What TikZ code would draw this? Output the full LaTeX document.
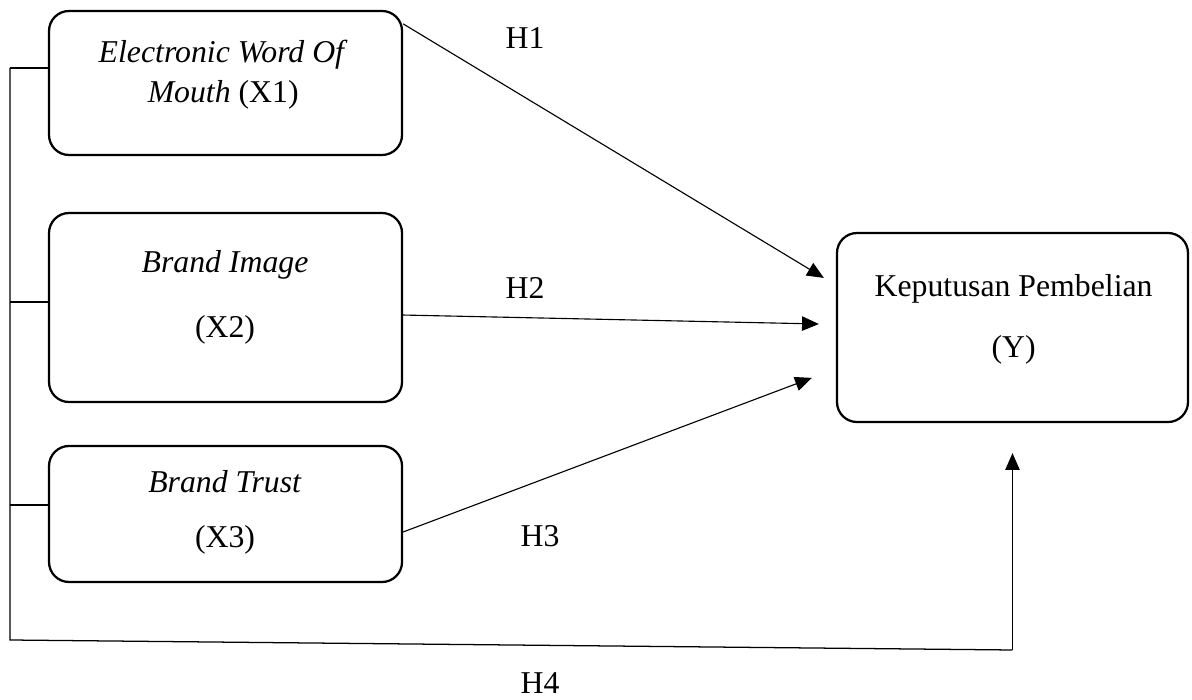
\documentclass[tikz,border=0pt]{standalone}
\usepackage{fontspec}
\setmainfont{Liberation Serif}
\usetikzlibrary{arrows.meta,positioning,calc}

\begin{document}
\begin{tikzpicture}[
  varbox/.style={rectangle,draw=black,line width=0.8pt,rounded corners=0.25cm,inner sep=0pt},
  lbl/.style={anchor=base,inner sep=0pt,font=\fontsize{11.3}{13}\selectfont},
  link/.style={draw=black,line width=0.4pt,-{Triangle[length=2.1mm,width=1.8mm]}},
  frame/.style={draw=black,line width=0.45pt}
]
\useasboundingbox (0,0) rectangle (14.9,8.75);

% variable boxes
\node[varbox,minimum width=4.4125cm,minimum height=1.8cm]    (x1) at (2.819,7.7125) {};
\node[varbox,minimum width=4.4125cm,minimum height=2.3625cm] (x2) at (2.819,4.906) {};
\node[varbox,minimum width=4.4125cm,minimum height=1.7cm]    (x3) at (2.819,2.325) {};
\node[varbox,minimum width=4.3875cm,minimum height=2.3625cm] (y)  at (12.656,4.656) {};

\node[lbl] (x1top) at (2.79,7.9625) {\textit{Electronic Word Of}};
\node[lbl] (x1bot) at (2.79,7.4625) {\textit{Mouth} (X1)};
\node[lbl] (x2top) at (2.8125,5.3375) {\textit{Brand Image}};
\node[lbl] (x2bot) at (2.8125,4.525) {(X2)};
\node[lbl] (x3top) at (2.8125,2.5875) {\textit{Brand Trust}};
\node[lbl] (x3bot) at (2.8125,1.9) {(X3)};
\node[lbl] (ytop)  at (12.67,5.0375) {Keputusan Pembelian};
\node[lbl] (ybot)  at (12.67,4.275) {(Y)};

% hypothesis labels
\node[lbl] (h1) at (6.5625,8.1375) {H1};
\node[lbl] (h2) at (6.5625,5.0125) {H2};
\node[lbl] (h3) at (6.75,1.9125)   {H3};
\node[lbl] (h4) at (6.75,0.075)    {H4};

% direct paths
\draw[link] ([yshift=-0.175cm]x1.north east) -- ([xshift=-0.15cm,yshift=0.62cm]y.west);
\draw[link] ([yshift=-0.094cm]x2.east) -- ([xshift=-0.2125cm,yshift=0.044cm]y.west);
\draw[link] ([yshift=-0.225cm]x3.east) -- ([xshift=-0.3cm,yshift=-0.63cm]y.west);

% joint path
\coordinate (ftop) at (0.125,7.9);
\coordinate (fbl)  at (0.125,0.75);
\coordinate (fbr)  at ($(y.south |- 0,0.625)$);
\foreach \b/\dy in {x1/0.1875,x2/0.069,x3/0.1125} {
  \coordinate (t\b) at ([yshift=\dy cm]\b.west);
  \draw[frame] (t\b) -- (t\b -| ftop);
}
\draw[frame] (ftop) -- (fbl) -- (fbr);
\draw[link] (fbr) -- ([yshift=-0.375cm]y.south);
\end{tikzpicture}
\end{document}
